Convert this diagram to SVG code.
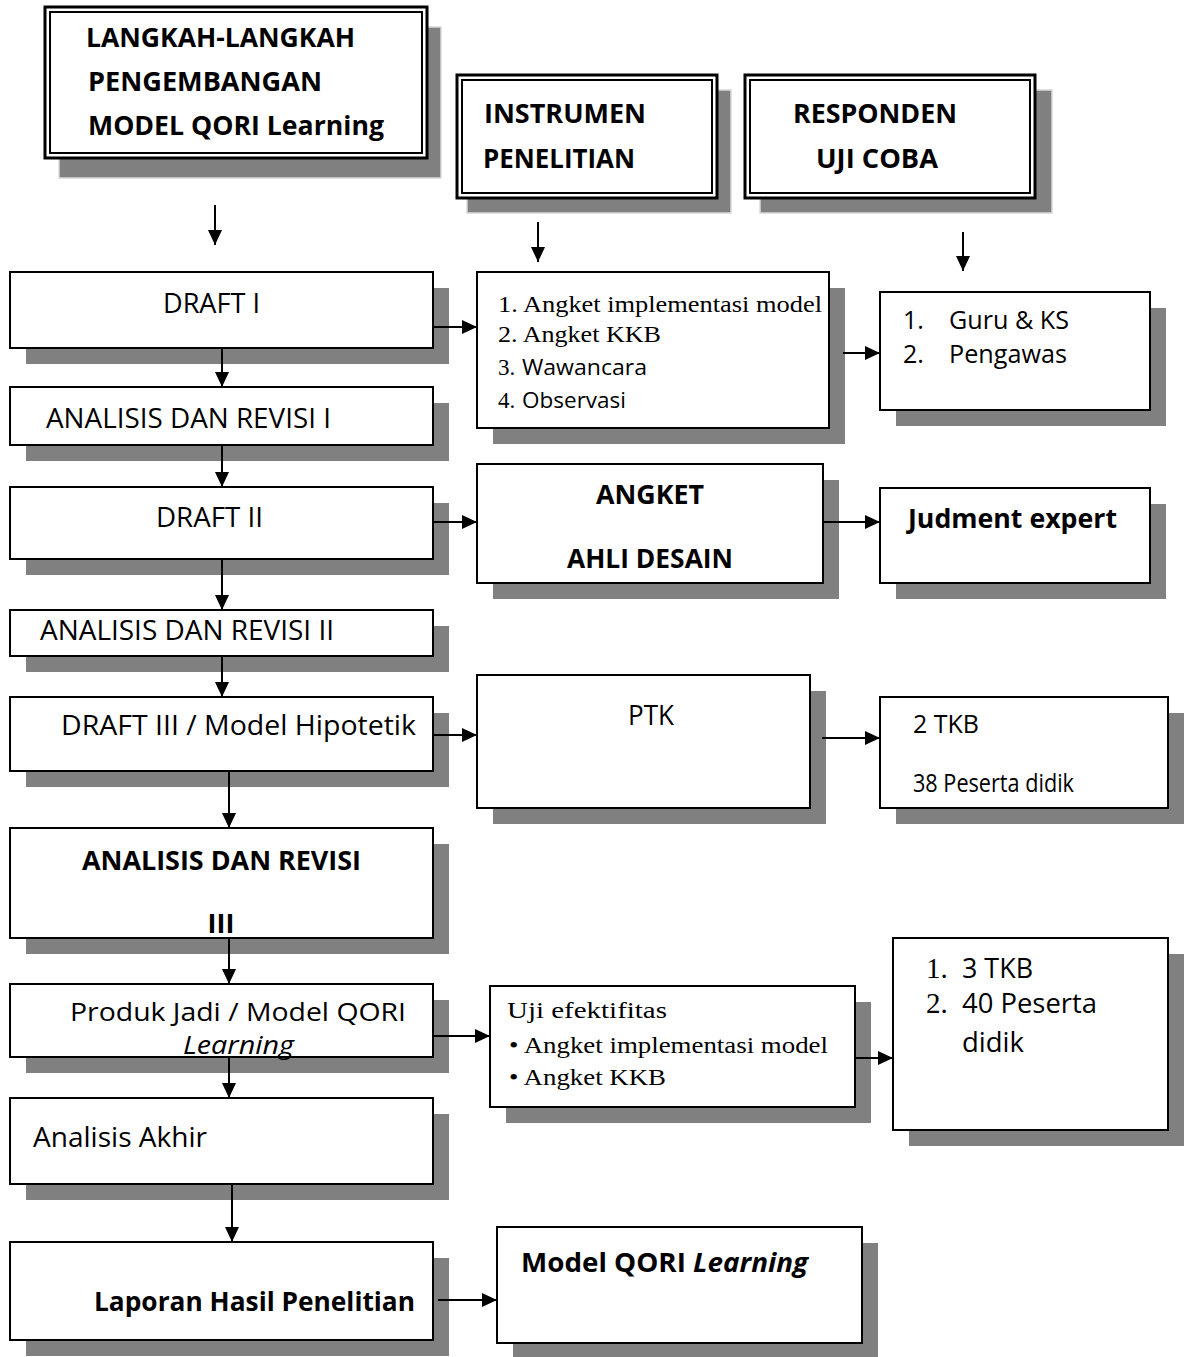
<svg xmlns="http://www.w3.org/2000/svg" width="1184" height="1357" viewBox="0 0 1184 1357">
<style>
.bg{fill:#fff}
.box{fill:#fff;stroke:#000;stroke-width:2}
.sh{fill:#808080}
.hsh{fill:#808080;stroke:#d9d9d9;stroke-width:1.5}
.outer{fill:#fff;stroke:#000;stroke-width:3}
.inner{fill:none;stroke:#000;stroke-width:2}
.s{font-family:"Open Sans","Liberation Sans",sans-serif;font-size:27px;fill:#000}
.b{font-weight:bold}
.i{font-style:italic}
.t{font-family:"Liberation Serif","Times New Roman",serif;font-size:23px;fill:#000}
.conn line{stroke:#000;stroke-width:2;marker-end:url(#ah)}
</style>
<defs>
<marker id="ah" markerUnits="userSpaceOnUse" markerWidth="16" markerHeight="16" refX="15" refY="7" orient="auto">
<path d="M0,0 L15,7 L0,14 z" fill="#000"/>
</marker>
</defs>
<rect class="bg" x="0" y="0" width="1184" height="1357"/>

<g id="header-langkah">
<rect class="hsh" x="59" y="27" width="382" height="151"/>
<rect class="outer" x="45" y="7" width="382" height="151"/>
<rect class="inner" x="50" y="12" width="372" height="141"/>
<text class="s b" x="86" y="47" style="font-size:27px" textLength="269" lengthAdjust="spacingAndGlyphs">LANGKAH-LANGKAH</text>
<text class="s b" x="88" y="91" style="font-size:27px" textLength="234" lengthAdjust="spacingAndGlyphs">PENGEMBANGAN</text>
<text class="s b" x="88" y="135" style="font-size:27px" textLength="296" lengthAdjust="spacingAndGlyphs">MODEL QORI Learning</text>
</g>

<g id="header-instrumen">
<rect class="hsh" x="467" y="90" width="264" height="123"/>
<rect class="outer" x="457" y="75" width="260" height="123"/>
<rect class="inner" x="462" y="80" width="250" height="113"/>
<text class="s b" x="484" y="123" style="font-size:27px" textLength="162" lengthAdjust="spacingAndGlyphs">INSTRUMEN</text>
<text class="s b" x="483" y="168" style="font-size:27px" textLength="152" lengthAdjust="spacingAndGlyphs">PENELITIAN</text>
</g>

<g id="header-responden">
<rect class="hsh" x="760" y="90" width="292" height="123"/>
<rect class="outer" x="745" y="75" width="290" height="123"/>
<rect class="inner" x="750" y="80" width="280" height="113"/>
<text class="s b" x="793" y="123" style="font-size:27px" textLength="164" lengthAdjust="spacingAndGlyphs">RESPONDEN</text>
<text class="s b" x="816" y="168" style="font-size:27px" textLength="122" lengthAdjust="spacingAndGlyphs">UJI COBA</text>
</g>

<g id="draft1">
<rect class="sh" x="26" y="288" width="423" height="76"/>
<rect class="box" x="10" y="272" width="423" height="76"/>
<text class="s" x="163" y="313" textLength="97" lengthAdjust="spacingAndGlyphs">DRAFT I</text>
</g>

<g id="instrumen-list">
<rect class="sh" x="493" y="288" width="352" height="156"/>
<rect class="box" x="477" y="272" width="352" height="156"/>
<text class="t" x="498" y="312" textLength="324" lengthAdjust="spacingAndGlyphs">1. Angket implementasi model</text>
<text class="t" x="498" y="342" textLength="163" lengthAdjust="spacingAndGlyphs">2. Angket KKB</text>
<text class="t" x="498" y="375">3.</text>
<text class="s" x="522" y="375" style="font-size:21px" textLength="125" lengthAdjust="spacingAndGlyphs">Wawancara</text>
<text class="t" x="498" y="408">4.</text>
<text class="s" x="522" y="408" style="font-size:21px" textLength="104" lengthAdjust="spacingAndGlyphs">Observasi</text>
</g>

<g id="guru">
<rect class="sh" x="896" y="308" width="270" height="118"/>
<rect class="box" x="880" y="292" width="270" height="118"/>
<text class="s" x="903" y="329" style="font-size:25px">1.</text>
<text class="s" x="949" y="329" style="font-size:25px" textLength="120" lengthAdjust="spacingAndGlyphs">Guru &amp; KS</text>
<text class="s" x="903" y="363" style="font-size:25px">2.</text>
<text class="s" x="949" y="363" style="font-size:25px" textLength="118" lengthAdjust="spacingAndGlyphs">Pengawas</text>
</g>

<g id="analisis1">
<rect class="sh" x="26" y="403" width="423" height="58"/>
<rect class="box" x="10" y="387" width="423" height="58"/>
<text class="s" x="46" y="428" textLength="285" lengthAdjust="spacingAndGlyphs">ANALISIS DAN REVISI I</text>
</g>

<g id="draft2">
<rect class="sh" x="26" y="503" width="423" height="72"/>
<rect class="box" x="10" y="487" width="423" height="72"/>
<text class="s" x="156" y="527" textLength="107" lengthAdjust="spacingAndGlyphs">DRAFT II</text>
</g>

<g id="angket-ahli">
<rect class="sh" x="493" y="480" width="346" height="119"/>
<rect class="box" x="477" y="464" width="346" height="119"/>
<text class="s b" x="596" y="504" textLength="108" lengthAdjust="spacingAndGlyphs">ANGKET</text>
<text class="s b" x="567" y="568" textLength="166" lengthAdjust="spacingAndGlyphs">AHLI DESAIN</text>
</g>

<g id="judment">
<rect class="sh" x="896" y="504" width="270" height="95"/>
<rect class="box" x="880" y="488" width="270" height="95"/>
<text class="s b" x="908" y="528" textLength="209" lengthAdjust="spacingAndGlyphs">Judment expert</text>
</g>

<g id="analisis2">
<rect class="sh" x="26" y="626" width="423" height="46"/>
<rect class="box" x="10" y="610" width="423" height="46"/>
<text class="s" x="40" y="640" textLength="294" lengthAdjust="spacingAndGlyphs">ANALISIS DAN REVISI II</text>
</g>

<g id="draft3">
<rect class="sh" x="26" y="713" width="423" height="74"/>
<rect class="box" x="10" y="697" width="423" height="74"/>
<text class="s" x="61" y="735" textLength="355" lengthAdjust="spacingAndGlyphs">DRAFT III / Model Hipotetik</text>
</g>

<g id="ptk">
<rect class="sh" x="493" y="691" width="333" height="133"/>
<rect class="box" x="477" y="675" width="333" height="133"/>
<text class="s" x="628" y="725" textLength="46" lengthAdjust="spacingAndGlyphs">PTK</text>
</g>

<g id="tkb2">
<rect class="sh" x="896" y="713" width="288" height="111"/>
<rect class="box" x="880" y="697" width="288" height="111"/>
<text class="s" x="913" y="733" style="font-size:25px" textLength="66" lengthAdjust="spacingAndGlyphs">2 TKB</text>
<text class="s" x="913" y="792" style="font-size:25px" textLength="161" lengthAdjust="spacingAndGlyphs">38 Peserta didik</text>
</g>

<g id="analisis3">
<rect class="sh" x="26" y="844" width="423" height="110"/>
<rect class="box" x="10" y="828" width="423" height="110"/>
<text class="s b" x="82" y="870" textLength="279" lengthAdjust="spacingAndGlyphs">ANALISIS DAN REVISI</text>
<text class="s b" x="221" y="933" text-anchor="middle">III</text>
</g>

<g id="produk">
<rect class="sh" x="26" y="1000" width="423" height="73"/>
<rect class="box" x="10" y="984" width="423" height="73"/>
<text class="s" x="70" y="1021" style="font-size:25px" textLength="336" lengthAdjust="spacingAndGlyphs">Produk Jadi / Model QORI</text>
<text class="s i" x="183" y="1054" style="font-size:25px" textLength="111" lengthAdjust="spacingAndGlyphs">Learning</text>
</g>

<g id="uji">
<rect class="sh" x="506" y="1002" width="365" height="121"/>
<rect class="box" x="490" y="986" width="365" height="121"/>
<text class="t" x="507" y="1018" textLength="160" lengthAdjust="spacingAndGlyphs">Uji efektifitas</text>
<text class="t" x="509" y="1053" textLength="319" lengthAdjust="spacingAndGlyphs">• Angket implementasi model</text>
<text class="t" x="509" y="1085" textLength="157" lengthAdjust="spacingAndGlyphs">• Angket KKB</text>
</g>

<g id="tkb3">
<rect class="sh" x="909" y="954" width="275" height="192"/>
<rect class="box" x="893" y="938" width="275" height="192"/>
<text class="t" x="926" y="978" style="font-size:29px">1.</text>
<text class="s" x="962" y="978" textLength="71" lengthAdjust="spacingAndGlyphs">3 TKB</text>
<text class="t" x="926" y="1013" style="font-size:29px">2.</text>
<text class="s" x="962" y="1013" textLength="135" lengthAdjust="spacingAndGlyphs">40 Peserta</text>
<text class="s" x="962" y="1052" textLength="62" lengthAdjust="spacingAndGlyphs">didik</text>
</g>

<g id="analisis-akhir">
<rect class="sh" x="26" y="1114" width="423" height="86"/>
<rect class="box" x="10" y="1098" width="423" height="86"/>
<text class="s" x="33" y="1147" textLength="174" lengthAdjust="spacingAndGlyphs">Analisis Akhir</text>
</g>

<g id="laporan">
<rect class="sh" x="26" y="1258" width="423" height="98"/>
<rect class="box" x="10" y="1242" width="423" height="98"/>
<text class="s b" x="94" y="1311" textLength="321" lengthAdjust="spacingAndGlyphs">Laporan Hasil Penelitian</text>
</g>

<g id="model-qori">
<rect class="sh" x="513" y="1243" width="365" height="114"/>
<rect class="box" x="497" y="1227" width="365" height="116"/>
<text class="s b" x="521" y="1272" textLength="287" lengthAdjust="spacingAndGlyphs">Model QORI <tspan class="i">Learning</tspan></text>
</g>

<g id="connectors" class="conn">
<line x1="215" y1="205" x2="215" y2="245"/>
<line x1="538" y1="222" x2="538" y2="262"/>
<line x1="963" y1="232" x2="963" y2="271"/>
<line x1="433" y1="327" x2="477" y2="327"/>
<line x1="843" y1="353" x2="880" y2="353"/>
<line x1="222" y1="348" x2="222" y2="387"/>
<line x1="222" y1="445" x2="222" y2="487"/>
<line x1="433" y1="522" x2="477" y2="522"/>
<line x1="823" y1="522" x2="880" y2="522"/>
<line x1="222" y1="559" x2="222" y2="610"/>
<line x1="222" y1="656" x2="222" y2="697"/>
<line x1="433" y1="735" x2="477" y2="735"/>
<line x1="822" y1="738" x2="880" y2="738"/>
<line x1="229" y1="771" x2="229" y2="828"/>
<line x1="229" y1="938" x2="229" y2="984"/>
<line x1="433" y1="1036" x2="490" y2="1036"/>
<line x1="855" y1="1058" x2="893" y2="1058"/>
<line x1="229" y1="1057" x2="229" y2="1098"/>
<line x1="232" y1="1184" x2="232" y2="1242"/>
<line x1="438" y1="1300" x2="497" y2="1300"/>
</g>
</svg>
